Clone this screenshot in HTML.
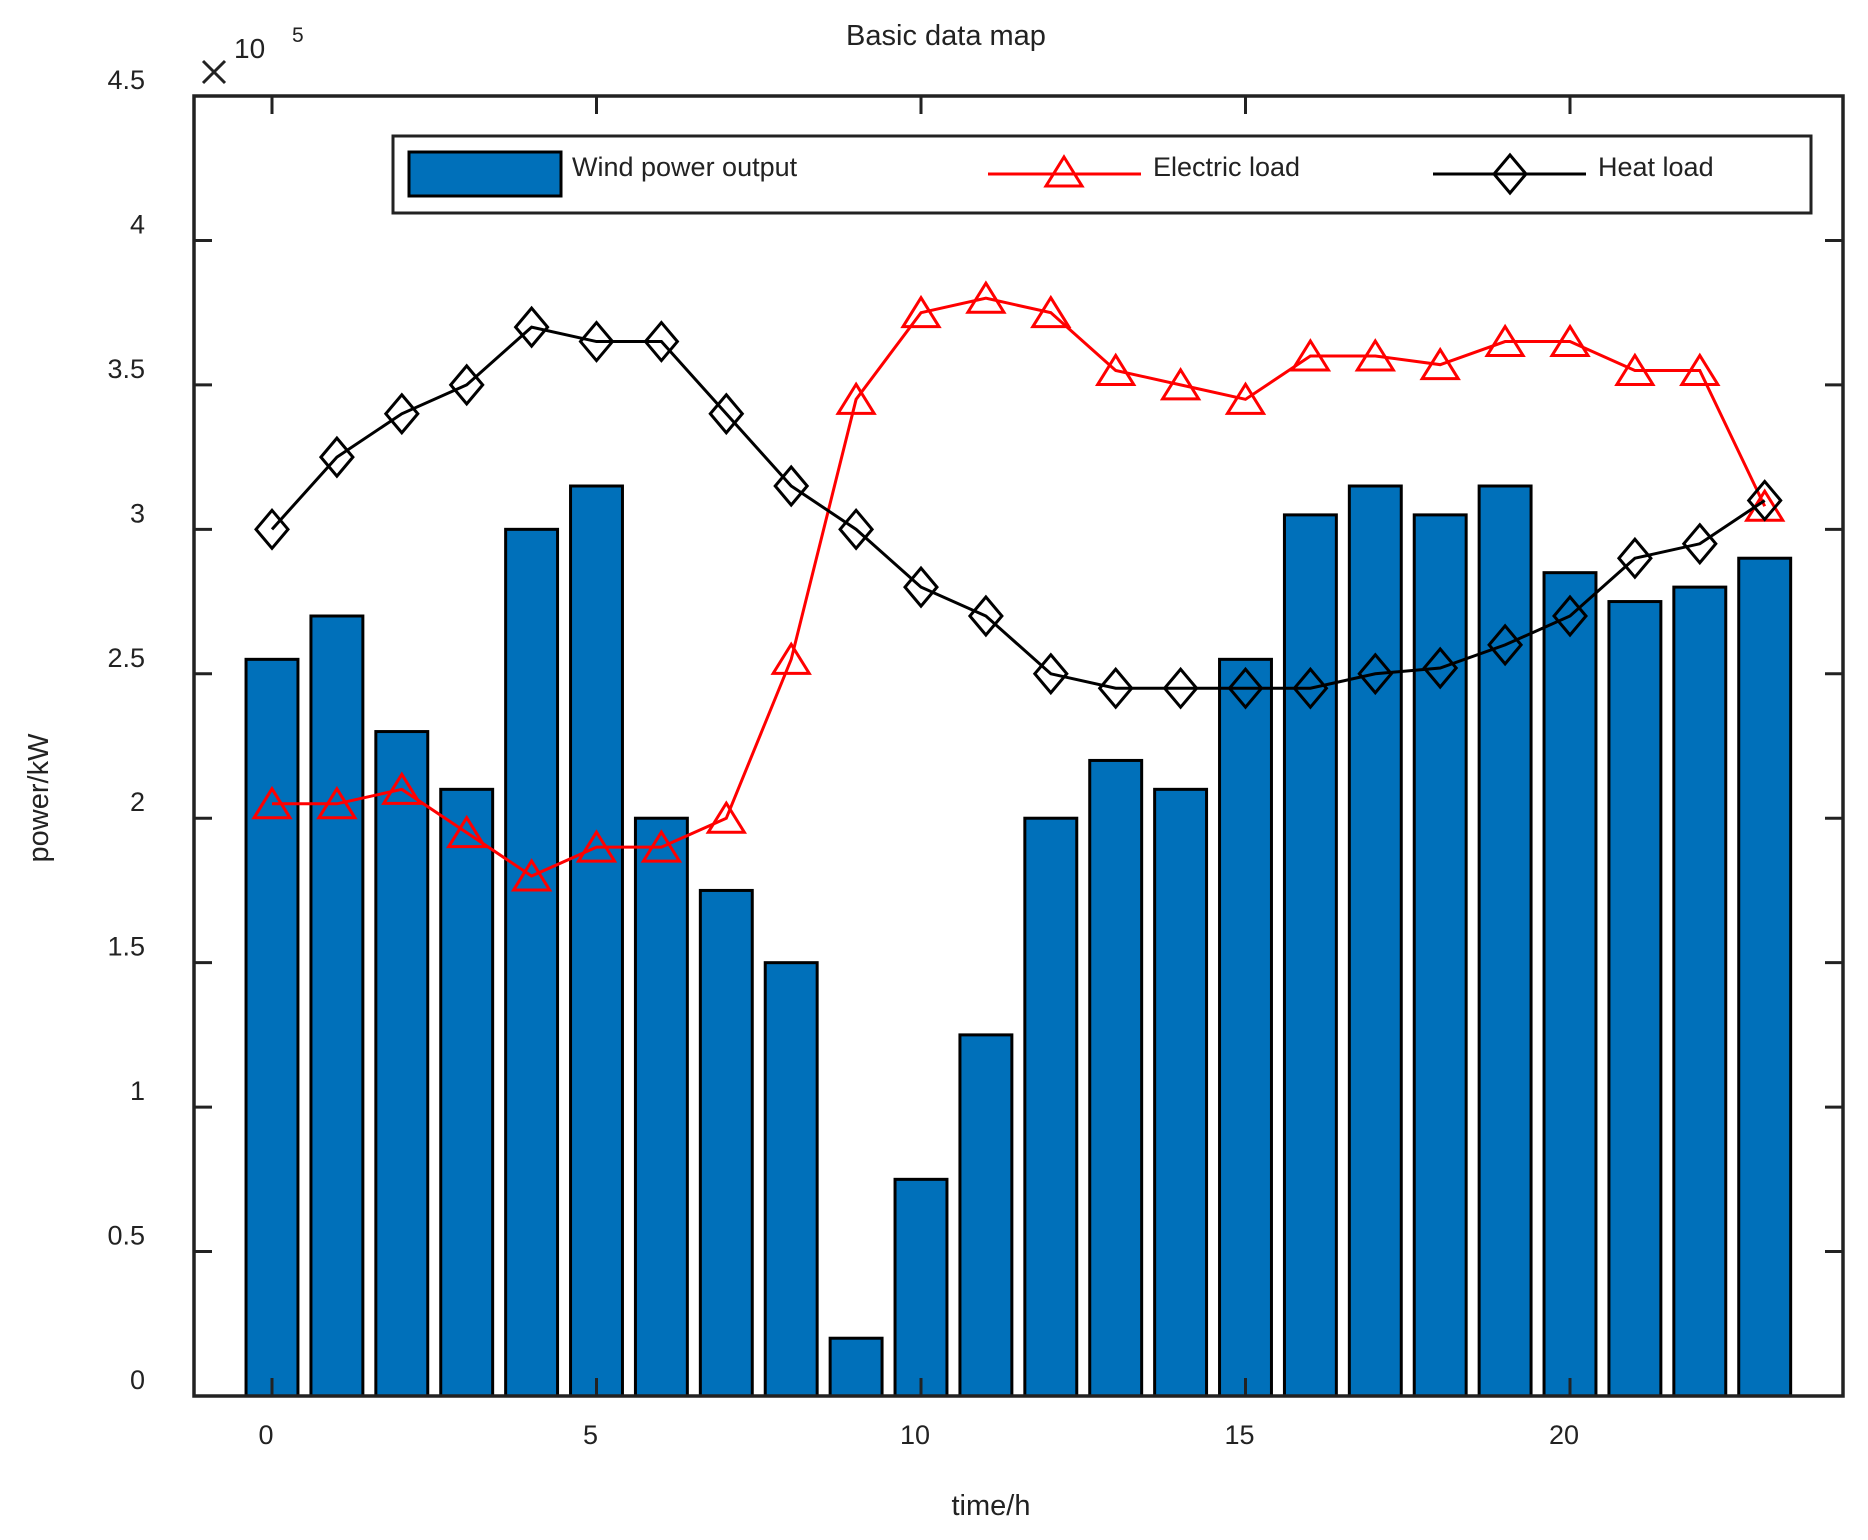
<!DOCTYPE html>
<html><head><meta charset="utf-8"><style>
body{margin:0;background:#fff}
svg{display:block;font-family:"Liberation Sans",Arial,sans-serif}
</style></head><body>
<svg id="chart" width="1868" height="1540" xmlns="http://www.w3.org/2000/svg">
<rect width="1868" height="1540" fill="#fff"/>
<text x="946" y="45" font-size="29" text-anchor="middle" fill="#222">Basic data map</text>
<g id="bars"></g>
<g id="lines"></g>
<g id="axes"></g>
<g stroke="#222" stroke-width="3">
<line x1="203" y1="61" x2="225" y2="83"/><line x1="225" y1="61" x2="203" y2="83"/>
</g>
<text x="234" y="58" font-size="28" fill="#222">10</text>
<text x="292" y="42" font-size="21" fill="#222">5</text>
<text x="991" y="1515" font-size="29" text-anchor="middle" fill="#222">time/h</text>
<text x="0" y="0" font-size="29" text-anchor="middle" fill="#222" transform="translate(48,798) rotate(-90)">power/kW</text>
<g>
<rect x="393" y="136" width="1418" height="77" fill="#fff" stroke="#222" stroke-width="3"/>
<rect x="409" y="152" width="152" height="44" fill="#0070BA" stroke="#000" stroke-width="3"/>
<text x="572" y="176" font-size="27" fill="#222">Wind power output</text>
<line x1="988" y1="174" x2="1141" y2="174" stroke="#f00" stroke-width="3"/>
<path d="M1064,157 L1082,186 L1046,186 Z" fill="none" stroke="#f00" stroke-width="3"/>
<text x="1153" y="176" font-size="27" fill="#222">Electric load</text>
<line x1="1433" y1="174" x2="1586" y2="174" stroke="#000" stroke-width="3"/>
<path d="M1510,155 L1526,174 L1510,193 L1494,174 Z" fill="none" stroke="#000" stroke-width="3"/>
<text x="1598" y="176" font-size="27" fill="#222">Heat load</text>
</g>
</svg>
<script>
const hours = [0,1,2,3,4,5,6,7,8,9,10,11,12,13,14,15,16,17,18,19,20,21,22,23];
const windPower = [2.55,2.7,2.3,2.1,3.0,3.15,2.0,1.75,1.5,0.2,0.75,1.25,2.0,2.2,2.1,2.55,3.05,3.15,3.05,3.15,2.85,2.75,2.8,2.9];
const electricLoad = [2.05,2.05,2.1,1.95,1.8,1.9,1.9,2.0,2.55,3.45,3.75,3.8,3.75,3.55,3.5,3.45,3.6,3.6,3.57,3.65,3.65,3.55,3.55,3.08];
const heatLoad = [3.0,3.25,3.4,3.5,3.7,3.65,3.65,3.4,3.15,3.0,2.8,2.7,2.5,2.45,2.45,2.45,2.45,2.5,2.52,2.6,2.7,2.9,2.95,3.1];
const xTicks = [0,5,10,15,20];
const yTicks = [0,0.5,1,1.5,2,2.5,3,3.5,4,4.5];
const yTickLabels = ["0","0.5","1","1.5","2","2.5","3","3.5","4","4.5"];

const NS="http://www.w3.org/2000/svg";
const L=194,R=1843,T=96,B=1396;
function xs(v){return 272+v*64.9;}
function ys(v){return B-(v/4.5)*(B-T);}
function mk(tag,attrs,parent){const e=document.createElementNS(NS,tag);for(const k in attrs)e.setAttribute(k,attrs[k]);parent.appendChild(e);return e;}

const bars=document.getElementById('bars');
const bw=0.8*64.9;
windPower.forEach((v,i)=>{
  const r=mk('rect',{x:xs(hours[i])-bw/2,y:ys(v),width:bw,height:B-ys(v),fill:'#0070BA',stroke:'#000','stroke-width':3},bars);
  
  
});

const lines=document.getElementById('lines');
function series(vals,color,name,marker){
  const pts=vals.map((v,i)=>xs(hours[i])+','+ys(v)).join(' ');
  const pl=mk('polyline',{points:pts,fill:'none',stroke:color,'stroke-width':3},lines);
  
  
  vals.forEach((v,i)=>{
    const x=xs(hours[i]),y=ys(v);
    let d;
    if(marker==='tri') d=`M${x},${y-15} L${x+18},${y+14} L${x-18},${y+14} Z`;
    else d=`M${x},${y-19} L${x+16},${y} L${x},${y+19} L${x-16},${y} Z`;
    const p=mk('path',{d:d,fill:'none',stroke:color,'stroke-width':3},lines);
    
    
  });
}
series(electricLoad,'#f00','electric-load','tri');
series(heatLoad,'#000','heat-load','dia');

const axes=document.getElementById('axes');
const frame=mk('rect',{x:L,y:T,width:R-L,height:B-T,fill:'none',stroke:'#222','stroke-width':3.5},axes);


xTicks.forEach(t=>{
  const x=xs(t);
  mk('line',{x1:x,y1:B,x2:x,y2:B-18,stroke:'#222','stroke-width':3},axes);
  mk('line',{x1:x,y1:T,x2:x,y2:T+18,stroke:'#222','stroke-width':3},axes);
  const tx=mk('text',{x:x-6,y:1444,'font-size':27,'text-anchor':'middle',fill:'#222'},axes);
  tx.textContent=t;
  
  
});
yTicks.forEach((t,i)=>{
  const y=ys(t);
  if(i>0&&i<yTicks.length-1){
    mk('line',{x1:L,y1:y,x2:L+18,y2:y,stroke:'#222','stroke-width':3},axes);
    mk('line',{x1:R,y1:y,x2:R-18,y2:y,stroke:'#222','stroke-width':3},axes);
  }
  const tx=mk('text',{x:145,y:y-7,'font-size':27,'text-anchor':'end',fill:'#222'},axes);
  tx.textContent=yTickLabels[i];
  
  
});
</script>
</body></html>
